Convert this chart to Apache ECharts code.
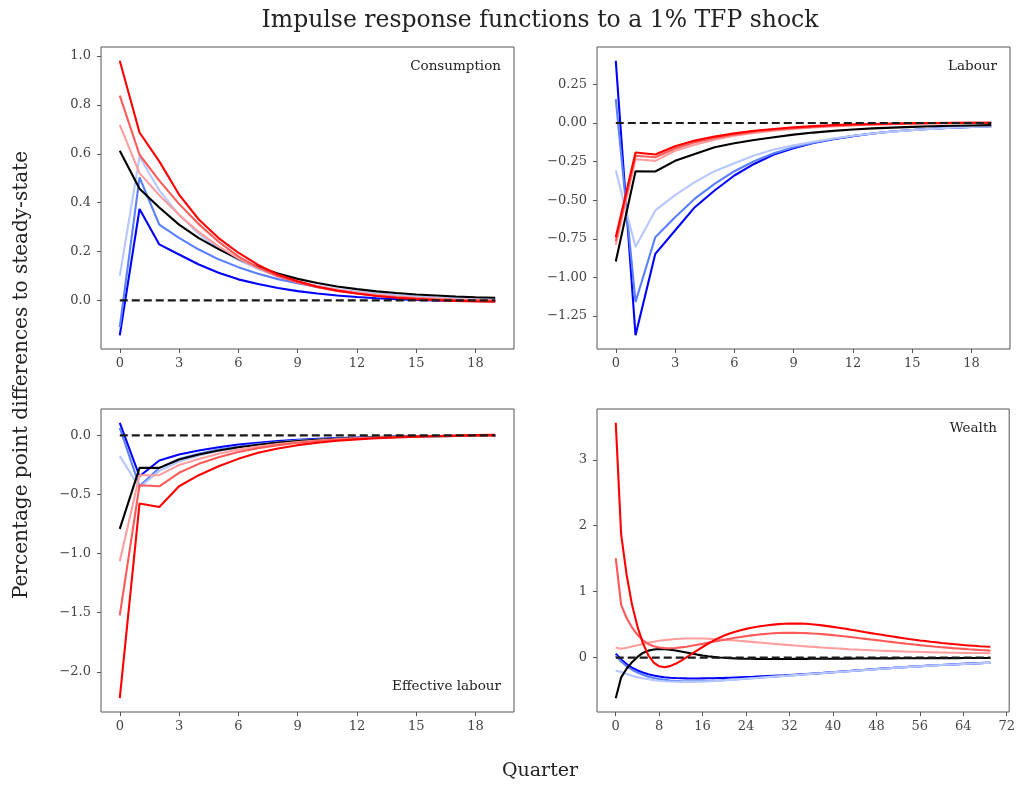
<!DOCTYPE html>
<html>
<head>
<meta charset="utf-8">
<title>Impulse response functions</title>
<script src="https://cdn.jsdelivr.net/npm/echarts@6/dist/echarts.min.js"></script>
<style>
  html, body { margin: 0; padding: 0; background: #ffffff; }
  #chart { width: 1018px; height: 785px; }
</style>
</head>
<body>
<div id="chart"></div>
<script>
// Quarters after the shock
const quartersShort = Array.from({ length: 20 }, (_, i) => i);
const quartersLong = Array.from({ length: 70 }, (_, i) => i);

// Tick labels
const shortTicks = [0, 3, 6, 9, 12, 15, 18];
const longTicks = [0, 8, 16, 24, 32, 40, 48, 56, 64, 72];
const consTicks = [0, 0.2, 0.4, 0.6, 0.8, 1.0];
const labTicks = [-1.25, -1.0, -0.75, -0.5, -0.25, 0, 0.25];
const effTicks = [-2.0, -1.5, -1.0, -0.5, 0];
const wealthTicks = [0, 1, 2, 3];

// Consumption
const consBlue = [-0.143, 0.374, 0.229, 0.188, 0.147, 0.113, 0.086, 0.067, 0.051, 0.038, 0.028, 0.020, 0.014, 0.009, 0.005, 0.002, 0.000, -0.001, -0.002, -0.002];
const consMidBlue = [-0.110, 0.503, 0.310, 0.256, 0.208, 0.168, 0.136, 0.109, 0.087, 0.070, 0.055, 0.043, 0.034, 0.026, 0.020, 0.015, 0.011, 0.008, 0.006, 0.004];
const consLightBlue = [0.100, 0.588, 0.450, 0.350, 0.272, 0.212, 0.165, 0.128, 0.099, 0.077, 0.060, 0.046, 0.035, 0.027, 0.020, 0.015, 0.011, 0.008, 0.006, 0.004];
const consBlack = [0.612, 0.457, 0.380, 0.310, 0.255, 0.210, 0.170, 0.137, 0.110, 0.088, 0.071, 0.057, 0.046, 0.037, 0.030, 0.024, 0.020, 0.016, 0.013, 0.011];
const consLightRed = [0.718, 0.521, 0.430, 0.350, 0.280, 0.221, 0.172, 0.132, 0.101, 0.077, 0.058, 0.043, 0.032, 0.023, 0.016, 0.011, 0.007, 0.004, 0.002, 0.000];
const consMidRed = [0.838, 0.596, 0.490, 0.395, 0.312, 0.240, 0.180, 0.134, 0.099, 0.073, 0.054, 0.039, 0.028, 0.019, 0.013, 0.008, 0.004, 0.001, -0.001, -0.003];
const consRed = [0.981, 0.687, 0.569, 0.433, 0.331, 0.255, 0.195, 0.145, 0.106, 0.078, 0.056, 0.040, 0.028, 0.018, 0.011, 0.005, 0.001, -0.002, -0.004, -0.005];

// Labour
const labBlue = [0.403, -1.374, -0.847, -0.696, -0.545, -0.437, -0.340, -0.265, -0.204, -0.164, -0.130, -0.105, -0.085, -0.068, -0.055, -0.045, -0.037, -0.030, -0.025, -0.021];
const labMidBlue = [0.155, -1.159, -0.739, -0.610, -0.490, -0.394, -0.312, -0.248, -0.196, -0.157, -0.127, -0.103, -0.084, -0.068, -0.055, -0.045, -0.037, -0.030, -0.025, -0.021];
const labLightBlue = [-0.308, -0.803, -0.566, -0.467, -0.383, -0.312, -0.260, -0.210, -0.172, -0.145, -0.121, -0.100, -0.083, -0.068, -0.056, -0.046, -0.038, -0.031, -0.026, -0.022];
const labBlack = [-0.896, -0.312, -0.314, -0.245, -0.200, -0.157, -0.131, -0.110, -0.092, -0.075, -0.062, -0.051, -0.042, -0.035, -0.030, -0.025, -0.021, -0.018, -0.016, -0.014];
const labLightRed = [-0.790, -0.235, -0.245, -0.180, -0.140, -0.108, -0.083, -0.064, -0.050, -0.038, -0.029, -0.022, -0.016, -0.011, -0.008, -0.005, -0.003, -0.001, 0.000, 0.000];
const labMidRed = [-0.765, -0.212, -0.222, -0.165, -0.125, -0.097, -0.075, -0.057, -0.044, -0.033, -0.025, -0.018, -0.013, -0.009, -0.006, -0.003, -0.001, 0.000, 0.001, 0.001];
const labRed = [-0.739, -0.191, -0.204, -0.150, -0.114, -0.088, -0.067, -0.050, -0.039, -0.028, -0.020, -0.014, -0.009, -0.006, -0.003, -0.001, 0.000, 0.001, 0.002, 0.002];

// Effective labour
const effBlue = [0.107, -0.345, -0.212, -0.161, -0.127, -0.099, -0.076, -0.062, -0.048, -0.037, -0.029, -0.022, -0.017, -0.013, -0.010, -0.007, -0.005, -0.004, -0.003, -0.002];
const effMidBlue = [0.065, -0.430, -0.274, -0.200, -0.155, -0.120, -0.093, -0.073, -0.057, -0.044, -0.034, -0.026, -0.020, -0.015, -0.011, -0.008, -0.006, -0.004, -0.003, -0.002];
const effLightBlue = [-0.175, -0.440, -0.300, -0.220, -0.170, -0.130, -0.100, -0.078, -0.060, -0.046, -0.036, -0.028, -0.021, -0.016, -0.012, -0.009, -0.007, -0.005, -0.004, -0.003];
const effBlack = [-0.791, -0.274, -0.274, -0.203, -0.161, -0.127, -0.100, -0.078, -0.060, -0.047, -0.036, -0.028, -0.021, -0.016, -0.012, -0.009, -0.007, -0.005, -0.004, -0.003];
const effLightRed = [-1.065, -0.336, -0.336, -0.250, -0.200, -0.155, -0.120, -0.093, -0.072, -0.055, -0.042, -0.032, -0.024, -0.018, -0.013, -0.009, -0.006, -0.004, -0.002, -0.001];
const effMidRed = [-1.523, -0.421, -0.430, -0.316, -0.240, -0.184, -0.140, -0.107, -0.082, -0.062, -0.047, -0.035, -0.026, -0.019, -0.013, -0.009, -0.006, -0.003, -0.001, 0.000];
const effRed = [-2.223, -0.576, -0.605, -0.430, -0.336, -0.260, -0.198, -0.147, -0.110, -0.082, -0.061, -0.045, -0.033, -0.024, -0.016, -0.010, -0.005, -0.001, 0.003, 0.006];

// Wealth
const wBlue = [
  0.060, -0.030, -0.100, -0.155, -0.195, -0.228, -0.253, -0.272, -0.287, -0.298,
  -0.306, -0.311, -0.314, -0.316, -0.317, -0.317, -0.316, -0.315, -0.313, -0.311,
  -0.309, -0.306, -0.303, -0.300, -0.297, -0.294, -0.290, -0.286, -0.282, -0.278,
  -0.274, -0.270, -0.265, -0.260, -0.255, -0.250, -0.245, -0.240, -0.234, -0.228,
  -0.222, -0.216, -0.210, -0.204, -0.198, -0.192, -0.186, -0.180, -0.174, -0.168,
  -0.162, -0.157, -0.151, -0.146, -0.141, -0.136, -0.131, -0.126, -0.121, -0.117,
  -0.112, -0.108, -0.104, -0.100, -0.096, -0.092, -0.088, -0.084, -0.081, -0.078
];
const wMidBlue = [
  0.030, -0.060, -0.130, -0.185, -0.228, -0.262, -0.290, -0.311, -0.327, -0.339,
  -0.348, -0.354, -0.358, -0.360, -0.361, -0.360, -0.358, -0.355, -0.351, -0.347,
  -0.342, -0.337, -0.332, -0.326, -0.320, -0.314, -0.308, -0.302, -0.296, -0.290,
  -0.284, -0.278, -0.272, -0.266, -0.260, -0.254, -0.248, -0.242, -0.236, -0.230,
  -0.224, -0.218, -0.212, -0.206, -0.200, -0.194, -0.188, -0.182, -0.176, -0.170,
  -0.164, -0.158, -0.152, -0.147, -0.142, -0.137, -0.132, -0.127, -0.122, -0.117,
  -0.113, -0.109, -0.105, -0.101, -0.097, -0.093, -0.089, -0.085, -0.082, -0.079
];
const wLightBlue = [
  -0.200, -0.220, -0.250, -0.275, -0.297, -0.315, -0.330, -0.342, -0.352, -0.359,
  -0.364, -0.367, -0.369, -0.369, -0.368, -0.366, -0.363, -0.359, -0.355, -0.350,
  -0.345, -0.339, -0.333, -0.327, -0.321, -0.315, -0.309, -0.303, -0.297, -0.291,
  -0.285, -0.279, -0.273, -0.267, -0.261, -0.255, -0.249, -0.243, -0.237, -0.231,
  -0.225, -0.219, -0.213, -0.207, -0.201, -0.195, -0.189, -0.183, -0.177, -0.171,
  -0.165, -0.159, -0.153, -0.148, -0.143, -0.138, -0.133, -0.128, -0.123, -0.118,
  -0.114, -0.110, -0.106, -0.102, -0.098, -0.094, -0.090, -0.086, -0.083, -0.080
];
const wBlack = [
  -0.617, -0.300, -0.170, -0.070, 0.010, 0.070, 0.105, 0.123, 0.130, 0.128,
  0.120, 0.108, 0.093, 0.077, 0.060, 0.045, 0.032, 0.020, 0.010, 0.002,
  -0.004, -0.009, -0.013, -0.016, -0.018, -0.019, -0.020, -0.021, -0.021, -0.021,
  -0.021, -0.021, -0.021, -0.020, -0.020, -0.020, -0.019, -0.019, -0.018, -0.018,
  -0.017, -0.017, -0.016, -0.016, -0.015, -0.015, -0.014, -0.014, -0.013, -0.013,
  -0.012, -0.012, -0.011, -0.011, -0.011, -0.010, -0.010, -0.010, -0.009, -0.009,
  -0.009, -0.008, -0.008, -0.008, -0.007, -0.007, -0.007, -0.007, -0.006, -0.006
];
const wLightRed = [
  0.152, 0.135, 0.150, 0.168, 0.188, 0.207, 0.225, 0.241, 0.254, 0.265,
  0.274, 0.281, 0.286, 0.289, 0.290, 0.290, 0.288, 0.285, 0.281, 0.276,
  0.271, 0.265, 0.259, 0.252, 0.245, 0.238, 0.231, 0.224, 0.217, 0.210,
  0.203, 0.196, 0.189, 0.182, 0.176, 0.170, 0.164, 0.158, 0.152, 0.147,
  0.142, 0.137, 0.132, 0.127, 0.123, 0.119, 0.115, 0.111, 0.107, 0.104,
  0.101, 0.098, 0.095, 0.092, 0.089, 0.087, 0.085, 0.083, 0.081, 0.079,
  0.077, 0.075, 0.074, 0.072, 0.071, 0.070, 0.069, 0.068, 0.067, 0.066
];
const wMidRed = [
  1.510, 0.800, 0.600, 0.456, 0.345, 0.262, 0.207, 0.172, 0.152, 0.143,
  0.142, 0.146, 0.154, 0.165, 0.178, 0.193, 0.208, 0.224, 0.240, 0.256,
  0.271, 0.286, 0.300, 0.313, 0.325, 0.336, 0.346, 0.355, 0.362, 0.368,
  0.372, 0.375, 0.376, 0.375, 0.373, 0.370, 0.366, 0.361, 0.355, 0.348,
  0.340, 0.332, 0.323, 0.314, 0.304, 0.294, 0.284, 0.274, 0.264, 0.254,
  0.244, 0.234, 0.224, 0.215, 0.206, 0.197, 0.188, 0.180, 0.172, 0.164,
  0.157, 0.150, 0.143, 0.137, 0.131, 0.125, 0.120, 0.115, 0.110, 0.105
];
const wRed = [
  3.562, 1.864, 1.257, 0.800, 0.470, 0.220, 0.035, -0.078, -0.133, -0.146,
  -0.130, -0.095, -0.050, 0.003, 0.056, 0.108, 0.160, 0.210, 0.257, 0.298,
  0.335, 0.365, 0.392, 0.415, 0.435, 0.452, 0.467, 0.480, 0.491, 0.500,
  0.507, 0.512, 0.515, 0.516, 0.515, 0.512, 0.505, 0.497, 0.488, 0.477,
  0.465, 0.453, 0.440, 0.427, 0.413, 0.399, 0.385, 0.371, 0.358, 0.345,
  0.332, 0.319, 0.306, 0.294, 0.282, 0.271, 0.260, 0.250, 0.240, 0.231,
  0.222, 0.214, 0.206, 0.198, 0.190, 0.184, 0.178, 0.172, 0.167, 0.163
];

// Line colours, from the strongest negative to the strongest positive scenario
const palette = ['#0000ff', '#5b80ff', '#b7c7ff', '#000000', '#ff9e9e', '#ff5a5a', '#ff0000'];

const FONT = 'DejaVu Serif';
const AXIS_COLOR = '#555555';

const panels = [
  { name: 'Consumption', x: quartersShort, ticks: shortTicks, yTicks: consTicks, yDigits: 1,
    xMin: -0.95, xMax: 19.95, yMin: -0.199, yMax: 1.037,
    lines: [consBlue, consMidBlue, consLightBlue, consBlack, consLightRed, consMidRed, consRed] },
  { name: 'Labour', x: quartersShort, ticks: shortTicks, yTicks: labTicks, yDigits: 2,
    xMin: -0.95, xMax: 19.95, yMin: -1.463, yMax: 0.492,
    lines: [labBlue, labMidBlue, labLightBlue, labBlack, labLightRed, labMidRed, labRed] },
  { name: 'Effective labour', x: quartersShort, ticks: shortTicks, yTicks: effTicks, yDigits: 1,
    xMin: -0.95, xMax: 19.95, yMin: -2.340, yMax: 0.224,
    lines: [effBlue, effMidBlue, effLightBlue, effBlack, effLightRed, effMidRed, effRed] },
  { name: 'Wealth', x: quartersLong, ticks: longTicks, yTicks: wealthTicks, yDigits: 0,
    xMin: -3.45, xMax: 72.45, yMin: -0.826, yMax: 3.771,
    lines: [wBlue, wMidBlue, wLightBlue, wBlack, wLightRed, wMidRed, wRed] }
];

const grids = [
  { left: 101, top: 47, width: 413, height: 302 },
  { left: 597, top: 47, width: 413, height: 302 },
  { left: 101, top: 409, width: 413, height: 303 },
  { left: 597, top: 409, width: 413, height: 303 }
];

function fmt(v, digits) {
  const s = Math.abs(v).toFixed(digits);
  return (v < -1e-9 ? '\u2212' : '') + s;
}

const xAxes = [];
const yAxes = [];
const series = [];

panels.forEach((p, i) => {
  xAxes.push({
    type: 'value', gridIndex: i, min: p.xMin, max: p.xMax, position: 'bottom',
    axisLine: { show: false, onZero: false },
    splitLine: { show: false },
    axisTick: { show: true, customValues: p.ticks, length: 4, lineStyle: { color: AXIS_COLOR, width: 1 } },
    axisLabel: { customValues: p.ticks, fontFamily: FONT, fontSize: 13, color: '#444444', margin: 8,
                 formatter: v => String(Math.round(v)) }
  });
  yAxes.push({
    type: 'value', gridIndex: i, min: p.yMin, max: p.yMax, position: 'left',
    axisLine: { show: false, onZero: false },
    splitLine: { show: false },
    axisTick: { show: true, customValues: p.yTicks, length: 4, lineStyle: { color: AXIS_COLOR, width: 1 } },
    axisLabel: { customValues: p.yTicks, fontFamily: FONT, fontSize: 13, color: '#444444', margin: 10,
                 formatter: v => fmt(v, p.yDigits) }
  });
  p.lines.forEach((vals, k) => {
    series.push({
      type: 'line', xAxisIndex: i, yAxisIndex: i,
      data: vals.map((v, t) => [p.x[t], v]),
      showSymbol: false, symbol: 'none', animation: false, silent: true,
      lineStyle: { color: palette[k], width: 2.1 },
      z: 2 + k
    });
  });
  // steady-state reference line
  const last = p.x[p.x.length - 1];
  series.push({
    type: 'line', xAxisIndex: i, yAxisIndex: i,
    data: [[0, 0], [last, 0]],
    showSymbol: false, symbol: 'none', animation: false, silent: true,
    lineStyle: { color: '#1a1a1a', width: 2.2, type: [8, 4] },
    z: 10
  });
});

const textStyle = { fontFamily: FONT, fill: '#222222' };

const graphic = [
  { type: 'text', x: 540, y: 21, style: Object.assign({ text: 'Impulse response functions to a 1% TFP shock', fontSize: 23.5, align: 'center', verticalAlign: 'middle' }, textStyle) },
  { type: 'text', x: 540, y: 771, style: Object.assign({ text: 'Quarter', fontSize: 19, align: 'center', verticalAlign: 'middle' }, textStyle) },
  { type: 'text', x: 22, y: 375, rotation: Math.PI / 2, style: Object.assign({ text: 'Percentage point differences to steady-state', fontSize: 20, align: 'center', verticalAlign: 'middle' }, textStyle) },
  { type: 'text', x: 501, y: 66, style: Object.assign({ text: 'Consumption', fontSize: 13.5, align: 'right', verticalAlign: 'middle' }, textStyle) },
  { type: 'text', x: 997, y: 66, style: Object.assign({ text: 'Labour', fontSize: 13.5, align: 'right', verticalAlign: 'middle' }, textStyle) },
  { type: 'text', x: 501, y: 686, style: Object.assign({ text: 'Effective labour', fontSize: 13.5, align: 'right', verticalAlign: 'middle' }, textStyle) },
  { type: 'text', x: 997, y: 428, style: Object.assign({ text: 'Wealth', fontSize: 13.5, align: 'right', verticalAlign: 'middle' }, textStyle) }
];

const chart = echarts.init(document.getElementById('chart'), null, { renderer: 'canvas' });
chart.setOption({
  backgroundColor: '#ffffff',
  animation: false,
  grid: grids.map(g => Object.assign({ show: true, borderColor: AXIS_COLOR, borderWidth: 1, backgroundColor: 'transparent', containLabel: false }, g)),
  xAxis: xAxes,
  yAxis: yAxes,
  series: series,
  graphic: graphic
});
</script>
</body>
</html>
